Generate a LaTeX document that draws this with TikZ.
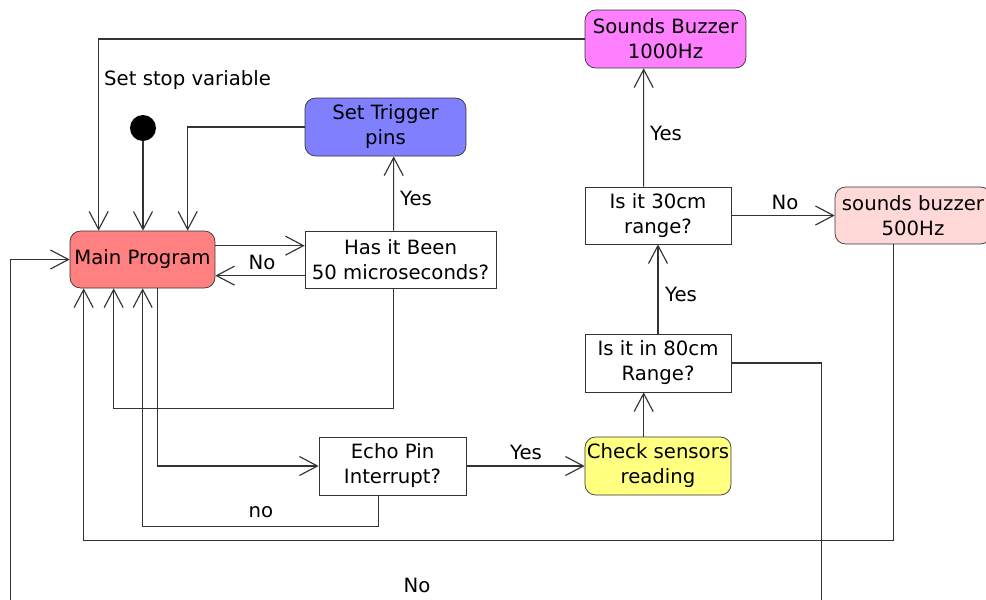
\documentclass[tikz,border=0pt]{standalone}
\usepackage{fontspec}
\setmainfont{DejaVu Sans}
\usetikzlibrary{arrows.meta,calc}
\definecolor{mainred}{HTML}{FF8080}
\definecolor{trigblue}{HTML}{8080FF}
\definecolor{buzzpink}{HTML}{FF80FF}
\definecolor{softpink}{HTML}{FFD8D8}
\definecolor{checkyellow}{HTML}{FFFF80}
\begin{document}
\begin{tikzpicture}[x=0.02cm, y=-0.02cm, every node/.style={font=\fontsize{11.2}{14.2}\selectfont}]
        \tikzstyle{act} = [draw=black!80, rectangle, rounded corners=6pt, align=center, inner sep=1pt, minimum height=1.16cm]
        \tikzstyle{dec} = [draw=black!80, rectangle, align=center, inner sep=1pt, minimum height=1.14cm]
        \tikzstyle{flow} = [-{Straight Barb[length=0.36cm, width=0.38cm]}, draw=black!80, line width=0.65pt]
        \useasboundingbox (0,0) rectangle (986,599);
        \clip (0,0) rectangle (986,599);
        % nodes
        \node[circle, fill=black, minimum size=0.52cm, inner sep=0pt] (start) at (143,128) {};
        \node[act, fill=mainred, minimum width=2.9cm, minimum height=1.14cm] (main) at (142.5,259.5) {Main Program};
        \node[act, fill=trigblue, minimum width=3.22cm] (trig) at (385.5,127) {Set Trigger\\pins};
        \node[dec, minimum width=3.82cm] (wait) at (400.5,259.5) {Has it Been\\50 microseconds?};
        \node[dec, minimum width=2.94cm, minimum height=1.16cm] (echo) at (392.5,466) {Echo Pin\\Interrupt?};
        \node[act, fill=checkyellow, minimum width=2.92cm] (check) at (658,466) {Check sensors\\reading};
        \node[dec, minimum width=2.92cm, minimum height=1.16cm] (rng80) at (658,363) {Is it in 80cm\\Range?};
        \node[dec, minimum width=2.92cm] (rng30) at (658,215.5) {Is it 30cm\\range?};
        \node[act, fill=buzzpink, minimum width=3.22cm] (buzzhigh) at (665.5,39) {Sounds Buzzer\\1000Hz};
        \node[act, fill=softpink, minimum width=3.12cm, minimum height=1.14cm] (buzzlow) at (913,215.5) {sounds buzzer\\500Hz};
        % connectors
        \draw[flow] (start) -- (start |- main.north);
        \draw[flow] (trig.west) -| ($(main.north west)+(118,0)$);
        \draw[flow] (buzzhigh.west) -| ($(main.north west)+(29,0)$);
        \node[anchor=west] (stoplbl) at (98,80) {Set stop variable};
        \draw[flow] ($(main.north east)+(0,15)$) -- ($(wait.north west)+(0,15)$);
        \draw[flow] ($(wait.north west)+(0,45)$) -- ($(main.north east)+(0,45)$);
        \node (nowait) at (262,262) {No};
        \draw[flow] ($(wait.north west)+(89,0)$) -- ($(trig.south west)+(89,0)$);
        \node (yestrig) at (416,198) {Yes};
        \draw[flow] ($(wait.south west)+(89,0)$) -- ++(0,120) -| ($(main.south west)+(44,0)$);
        \draw[flow] ($(main.south west)+(88,0)$) |- (echo.west);
        \draw[flow] ($(echo.south west)+(60,0)$) -- ++(0,31) -| ($(main.south west)+(73,0)$);
        \node (noecho) at (261,512) {no};
        \draw[flow] (echo.east) -- (check.west);
        \node (yesecho) at (526,452) {Yes};
        \draw[flow] ($(check.north west)+(59,0)$) -- ($(rng80.south west)+(59,0)$);
        \draw[flow] (rng80.north) -- (rng30.south);
        \node (yes80) at (681,294) {Yes};
        \draw[flow] ($(rng30.north west)+(59,0)$) -- ($(buzzhigh.south west)+(59,0)$);
        \node (yes30) at (666,133) {Yes};
        \draw[flow] (rng30.east) -- (buzzlow.west);
        \node (no30) at (785,202) {No};
        \draw[flow] ($(buzzlow.south west)+(59,0)$) -- ++(0,296) -| ($(main.south west)+(14,0)$);
        \draw[flow] (rng80.east) -- ++(90,0) -- ++(0,260) -| ($(main.west)+(-59,0)$) -- (main.west);
        \node (no80) at (417,585) {No};
\end{tikzpicture}
\end{document}
